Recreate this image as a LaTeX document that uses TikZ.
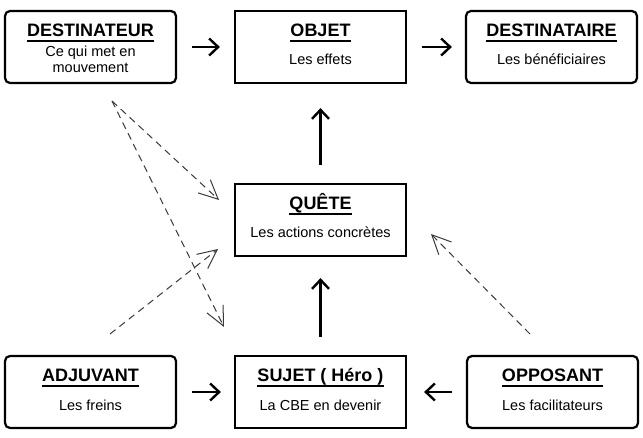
\documentclass[tikz,border=0pt]{standalone}
\usepackage{fontspec}
\setmainfont{Liberation Sans}
\usetikzlibrary{arrows.meta}
\definecolor{dashgray}{HTML}{3A3A3A}
\newcommand\actant[6]{%
  \node[#6] (#1) at (#2,#3) {};
  \node[ttl, anchor=base] (#1t) at (#2,#3-10) {#4};
  \draw[uline] ([yshift=-4pt]#1t.base west) -- ([yshift=-4pt]#1t.base east);
  \node[sub, anchor=base] (#1s) at (#2,#3+18) {#5};
}
\begin{document}
\begin{tikzpicture}[x=1pt,y=-1pt,
  outerbox/.style={draw=black,line width=2.2pt,rounded corners=5pt,minimum width=171pt,minimum height=72pt,inner sep=0pt},
  innerbox/.style={draw=black,line width=2.2pt,minimum width=171pt,minimum height=72pt,inner sep=0pt},
  ttl/.style={inner sep=0pt,font=\fontsize{18}{18}\selectfont\bfseries},
  sub/.style={inner sep=0pt,font=\fontsize{14.5}{16}\selectfont},
  uline/.style={line width=2pt},
  arr/.style={line width=2.4pt,-{Straight Barb[length=9pt,width=17pt]}},
  darr/.style={draw=dashgray,line width=1pt,dash pattern=on 7pt off 5pt,-{Straight Barb[length=19pt,width=18pt]}}
]
\fill[white] (0,0) rectangle (643,438);
\useasboundingbox (0,0) rectangle (643,438);

\node[outerbox] (dtr) at (90.5,47) {};
\node[ttl, anchor=base] (dtrt) at (90.5,37) {DESTINATEUR};
\draw[uline] ([yshift=-4pt]dtrt.base west) -- ([yshift=-4pt]dtrt.base east);
\node[sub, anchor=base] (dtrs) at (90.5,57) {Ce qui met en};
\node[sub, anchor=base] (dtrs2) at (90.5,73) {mouvement};

\actant{obj}{320.5}{47}{OBJET}{Les effets}{innerbox}
\actant{dta}{551.5}{47}{DESTINATAIRE}{Les bénéficiaires}{outerbox}
\actant{que}{320.5}{220}{QUÊTE}{Les actions concrètes}{innerbox}
\actant{adj}{90.5}{392}{ADJUVANT}{Les freins}{outerbox}
\actant{suj}{320.5}{392}{SUJET ( Héro )}{La CBE en devenir}{innerbox}
\actant{opp}{552.5}{392}{OPPOSANT}{Les facilitateurs}{outerbox}

\draw[arr,shorten <=15pt,shorten >=14pt] (dtr) -- (obj);
\draw[arr,shorten <=15pt,shorten >=13pt] (obj) -- (dta);
\draw[arr,shorten <=18pt,shorten >=24pt] (que) -- (obj);
\draw[arr,shorten <=18pt,shorten >=21pt] (suj) -- (que);
\draw[arr,shorten <=15pt,shorten >=13pt] (adj) -- (suj);
\draw[arr,shorten <=14pt,shorten >=17pt] (opp) -- (suj);

\coordinate (s1) at (112,101);
\coordinate (e1) at (219,200);
\coordinate (e2) at (224,327);
\coordinate (s3) at (110,334);
\coordinate (e3) at (218,249);
\coordinate (s4) at (530,334);
\coordinate (e4) at (431,234);
\draw[darr] (s1) -- (e1);
\draw[darr] (s1) -- (e2);
\draw[darr] (s3) -- (e3);
\draw[darr] (s4) -- (e4);
\end{tikzpicture}
\end{document}
